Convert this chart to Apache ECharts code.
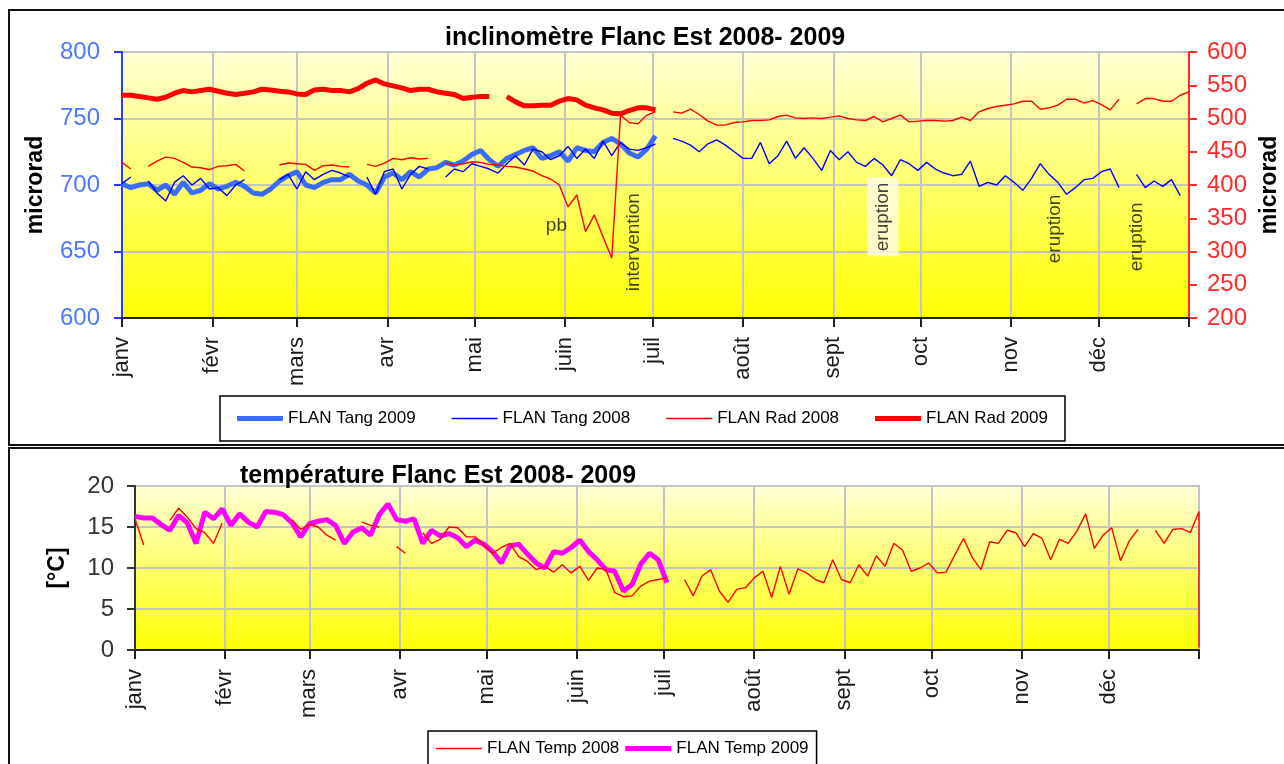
<!DOCTYPE html>
<html><head><meta charset="utf-8">
<script src="https://cdn.jsdelivr.net/npm/echarts@6/dist/echarts.min.js"></script>
<style>html,body{margin:0;padding:0;background:#fff}#c{width:1284px;height:764px}</style>
</head><body><div id="c"></div>
<script>
// ---------- data ----------
const monthNames = ['janv','févr','mars','avr','mai','juin','juil','août','sept','oct','nov','déc'];
const monthStarts = [0,31,60,91,121,152,182,213,244,274,305,335];
const yearEnd = 366;
const dayStep = 3; // one sample every 3 days, starting Jan 1

// microrad, left axis
const tang2009 = [701,698,700,701,696,700,693,702,694,696,
  701,697,699,702,699,694,693,697,703,707,
  710,700,698,702,704,704,708,703,700,694,
  706,709,704,710,706,712,713,717,715,718,
  723,726,719,714,720,723,726,728,720,722,
  725,718,728,726,725,732,735,731,724,721,
  727,737];
const tang2008 = [701,706,null,703,694,688,702,707,700,705,
  697,698,692,700,704,null,null,null,704,708,
  697,710,704,708,711,709,706,null,706,693,
  710,712,697,708,714,712,null,706,712,710,
  716,714,712,709,716,722,715,727,725,719,
  722,729,720,727,720,733,722,732,727,726,
  728,731,null,735,733,730,725,731,734,730,
  725,720,720,732,716,722,733,720,728,720,
  711,726,719,725,717,714,720,715,707,719,
  716,711,717,712,709,707,708,718,699,702,
  700,707,702,696,705,716,708,702,693,698,
  704,705,710,712,698,null,708,698,703,699,
  704,692,null];
// microrad, right axis
const rad2008 = [434,424,null,428,436,442,440,434,427,426,
  423,428,429,431,421,null,null,null,430,433,
  432,431,422,429,430,428,427,null,431,428,
  433,440,438,441,439,440,null,433,430,432,
  435,434,431,430,428,427,424,421,414,409,
  400,367,385,330,355,322,290,505,494,492,
  505,510,null,510,508,514,506,496,490,490,
  494,495,497,497,498,503,505,501,500,501,
  500,502,504,500,498,497,503,495,500,505,
  495,496,497,497,496,497,502,497,510,515,
  518,520,522,526,526,514,516,520,529,529,
  523,527,521,513,529,null,522,530,530,526,
  526,535,540];
const rad2009 = [535,535,533,531,529,532,538,542,540,542,
  544,541,538,536,538,540,544,543,541,540,
  537,536,543,544,542,542,540,545,553,558,
  552,549,546,542,544,544,540,538,536,530,
  532,533,533,null,533,525,519,519,520,520,
  526,530,528,520,516,513,508,507,512,516,
  516,513];
// °C
const temp2008 = [16.0,12.8,null,null,15.8,17.3,16.2,14.8,14.3,13.0,
  15.5,null,null,null,null,null,null,null,15.9,14.7,
  15.3,15.0,14.0,13.4,null,null,15.6,15.2,15.0,null,
  12.6,11.8,null,14.3,13.0,13.5,15.0,14.9,13.8,13.8,
  12.8,11.8,12.5,13.0,11.4,10.8,9.8,10.2,9.5,10.4,
  9.4,10.2,8.5,10.0,9.8,7.0,6.5,6.6,7.8,8.4,
  8.6,8.8,null,8.6,6.6,9.0,9.8,7.2,5.8,7.4,
  7.6,8.8,9.6,6.4,10.2,6.8,9.9,9.4,8.6,8.2,
  11.0,8.6,8.2,10.4,9.0,11.5,10.2,13.0,12.2,9.6,
  10.0,10.6,9.4,9.5,11.6,13.6,11.3,9.8,13.2,13.0,
  14.6,14.3,12.6,14.2,13.6,11.0,13.5,13.0,14.5,16.6,
  12.4,14.0,14.9,10.9,13.3,14.7,null,14.6,13.0,14.7,
  14.8,14.3,16.9];
const temp2008EndDrop = [12.8, 0.3]; // readings at the very end of the year
const temp2009 = [16.3,16.1,16.1,15.3,14.6,16.4,15.5,13.0,16.8,16.0,
  17.2,15.2,16.6,15.6,15.0,16.9,16.8,16.5,15.5,13.8,
  15.4,15.7,15.9,15.2,13.0,14.4,14.9,14.0,16.5,17.8,
  15.9,15.7,16.0,13.0,14.6,13.9,14.2,13.7,12.6,13.4,
  12.9,12.0,10.6,12.7,12.9,11.7,10.6,10.0,12.0,11.8,
  12.5,13.4,12.0,11.0,9.8,9.6,7.2,8.0,10.5,11.8,
  11.0,8.2];
// annotations (day, right-axis value)
const annotationTexts = ['pb','intervention','eruption','eruption','eruption'];
const annotationDays = [149, 175.6, 261, 320, 348.2];
const annotationValues = [338, 314, 352, 334, 322];
const annotationRotate = [0, 90, 90, 90, 90];

// ---------- chart ----------
const FONT = '"Liberation Sans", Arial, sans-serif';
const toPairs = vals => vals.map((v, i) => [i * dayStep, v]);
const chart = echarts.init(document.getElementById('c'), null, {renderer: 'canvas'});

const bgGrad = () => new echarts.graphic.LinearGradient(0, 0, 0, 1, [
  {offset: 0, color: '#ffffd6'}, {offset: 1, color: '#ffff00'}]);

const THICK_ICON = 'path://M0,0H46V5H0Z';
const THIN_ICON = 'path://M0,0H46V1.5H0Z';

function xAxisCfg(gridIndex) {
  return {
    type: 'value', gridIndex, min: 0, max: yearEnd,
    axisLine: {show: true, onZero: false, lineStyle: {color: '#222', width: 2}},
    axisTick: {show: true, customValues: monthStarts.concat([yearEnd]), length: 9, lineStyle: {color: '#222', width: 2}},
    axisLabel: {
      customValues: monthStarts, rotate: 90, margin: 19,
      fontFamily: FONT, fontSize: 22, color: '#1a1a1a',
      formatter: v => monthNames[monthStarts.indexOf(Math.round(v))] || ''
    },
    splitLine: {show: true, lineStyle: {color: '#c4c4c4', width: 2}}
  };
}

const lineBase = {type: 'line', showSymbol: false, symbol: 'none', connectNulls: false, animation: false};

const option = {
  backgroundColor: '#fff',
  animation: false,
  title: [
    {text: 'inclinomètre Flanc Est 2008- 2009', left: 445, top: 26, padding: 0,
     textStyle: {fontFamily: FONT, fontSize: 25, fontWeight: 'bold', color: '#000'}},
    {text: 'température Flanc Est 2008- 2009', left: 240, top: 464, padding: 0,
     textStyle: {fontFamily: FONT, fontSize: 25, fontWeight: 'bold', color: '#000'}}
  ],
  grid: [
    {left: 122, top: 52, width: 1067, height: 266, show: true, backgroundColor: bgGrad(),
     borderColor: '#b8b8b8', borderWidth: 2, containLabel: false, outerBoundsMode: 'none'},
    {left: 135, top: 486, width: 1064, height: 164, show: true, backgroundColor: bgGrad(),
     borderColor: '#b8b8b8', borderWidth: 2, containLabel: false, outerBoundsMode: 'none'}
  ],
  legend: [
    {data: [
       {name: 'FLAN Tang 2009', icon: THICK_ICON},
       {name: 'FLAN Tang 2008', icon: THIN_ICON},
       {name: 'FLAN Rad 2008', icon: THIN_ICON},
       {name: 'FLAN Rad 2009', icon: THICK_ICON}],
     left: 220, top: 396, orient: 'horizontal', padding: [14, 17], itemGap: 36,
     itemWidth: 46, itemHeight: 14, borderColor: '#000', borderWidth: 1.5,
     backgroundColor: '#fff', selectedMode: false,
     textStyle: {fontFamily: FONT, fontSize: 17, color: '#000'}},
    {data: [
       {name: 'FLAN Temp 2008', icon: THIN_ICON},
       {name: 'FLAN Temp 2009', icon: THICK_ICON}],
     left: 428, top: 731, orient: 'horizontal', padding: [9, 8], itemGap: 6,
     itemWidth: 46, itemHeight: 14, borderColor: '#000', borderWidth: 1.5,
     backgroundColor: '#fff', selectedMode: false,
     textStyle: {fontFamily: FONT, fontSize: 17, color: '#000'}}
  ],
  xAxis: [xAxisCfg(0), xAxisCfg(1)],
  yAxis: [
    {type: 'value', gridIndex: 0, position: 'left', min: 600, max: 800, interval: 50,
     name: 'microrad', nameLocation: 'middle', nameRotate: 90, nameGap: 75,
     nameTextStyle: {fontFamily: FONT, fontSize: 23, fontWeight: 'bold', color: '#000'},
     axisLine: {show: true, onZero: false, lineStyle: {color: '#2b3cff', width: 2}},
     axisTick: {show: true, length: 8, lineStyle: {color: '#2b3cff', width: 2}},
     axisLabel: {margin: 22, fontFamily: FONT, fontSize: 24, color: '#5077ff'},
     splitLine: {show: true, lineStyle: {color: '#c4c4c4', width: 2}}},
    {type: 'value', gridIndex: 0, position: 'right', min: 200, max: 600, interval: 50,
     name: 'microrad', nameLocation: 'middle', nameRotate: 90, nameGap: 62,
     nameTextStyle: {fontFamily: FONT, fontSize: 23, fontWeight: 'bold', color: '#000'},
     axisLine: {show: true, onZero: false, lineStyle: {color: '#ff2a2a', width: 2}},
     axisTick: {show: true, length: 8, lineStyle: {color: '#ff2a2a', width: 2}},
     axisLabel: {margin: 18, fontFamily: FONT, fontSize: 24, color: '#ff2a2a'},
     splitLine: {show: false}},
    {type: 'value', gridIndex: 1, position: 'left', min: 0, max: 20, interval: 5,
     name: '[°C]', nameLocation: 'middle', nameRotate: 90, nameGap: 66,
     nameTextStyle: {fontFamily: FONT, fontSize: 23, fontWeight: 'bold', color: '#000'},
     axisLine: {show: true, onZero: false, lineStyle: {color: '#333', width: 2}},
     axisTick: {show: true, length: 8, lineStyle: {color: '#333', width: 2}},
     axisLabel: {margin: 21, fontFamily: FONT, fontSize: 24, color: '#333'},
     splitLine: {show: true, lineStyle: {color: '#c4c4c4', width: 2}}}
  ],
  series: [
    Object.assign({}, lineBase, {name: 'FLAN Tang 2009', xAxisIndex: 0, yAxisIndex: 0, z: 2,
      data: toPairs(tang2009), itemStyle: {color: '#3a6cff'}, lineStyle: {color: '#3a6cff', width: 5}}),
    Object.assign({}, lineBase, {name: 'FLAN Tang 2008', xAxisIndex: 0, yAxisIndex: 0, z: 4,
      data: toPairs(tang2008), itemStyle: {color: '#0000ff'}, lineStyle: {color: '#0000ff', width: 1.4}}),
    Object.assign({}, lineBase, {name: 'FLAN Rad 2008', xAxisIndex: 0, yAxisIndex: 1, z: 4,
      data: toPairs(rad2008), itemStyle: {color: '#ff0000'}, lineStyle: {color: '#ff0000', width: 1.4}}),
    Object.assign({}, lineBase, {name: 'FLAN Rad 2009', xAxisIndex: 0, yAxisIndex: 1, z: 3,
      data: toPairs(rad2009), itemStyle: {color: '#ff0000'}, lineStyle: {color: '#ff0000', width: 5}}),
    {type: 'scatter', name: 'annotations', xAxisIndex: 0, yAxisIndex: 1, z: 6, symbolSize: 0, silent: true,
     data: annotationTexts.map((t, i) => ({
       name: t, value: [annotationDays[i], annotationValues[i]],
       label: {show: true, position: 'inside', formatter: t, rotate: annotationRotate[i],
         fontFamily: FONT, fontSize: 19, color: '#111',
         backgroundColor: i === 2 ? '#fffde6' : 'transparent', padding: i === 2 ? [6, 5] : 0}
     }))},
    Object.assign({}, lineBase, {name: 'FLAN Temp 2009', xAxisIndex: 1, yAxisIndex: 2, z: 2,
      data: toPairs(temp2009), itemStyle: {color: '#ff00ff'}, lineStyle: {color: '#ff00ff', width: 5}}),
    Object.assign({}, lineBase, {name: 'FLAN Temp 2008', xAxisIndex: 1, yAxisIndex: 2, z: 3,
      data: toPairs(temp2008).concat(temp2008EndDrop.map(v => [yearEnd, v])),
      itemStyle: {color: '#ff0000'}, lineStyle: {color: '#ff0000', width: 1.4}})
  ],
  graphic: [
    {type: 'rect', silent: true, z: 100, shape: {x: 9, y: 10, width: 1290, height: 435},
     style: {fill: 'none', stroke: '#111', lineWidth: 2}},
    {type: 'rect', silent: true, z: 100, shape: {x: 9, y: 448, width: 1290, height: 330},
     style: {fill: 'none', stroke: '#111', lineWidth: 2}}
  ]
};
chart.setOption(option);
</script>
</body></html>
